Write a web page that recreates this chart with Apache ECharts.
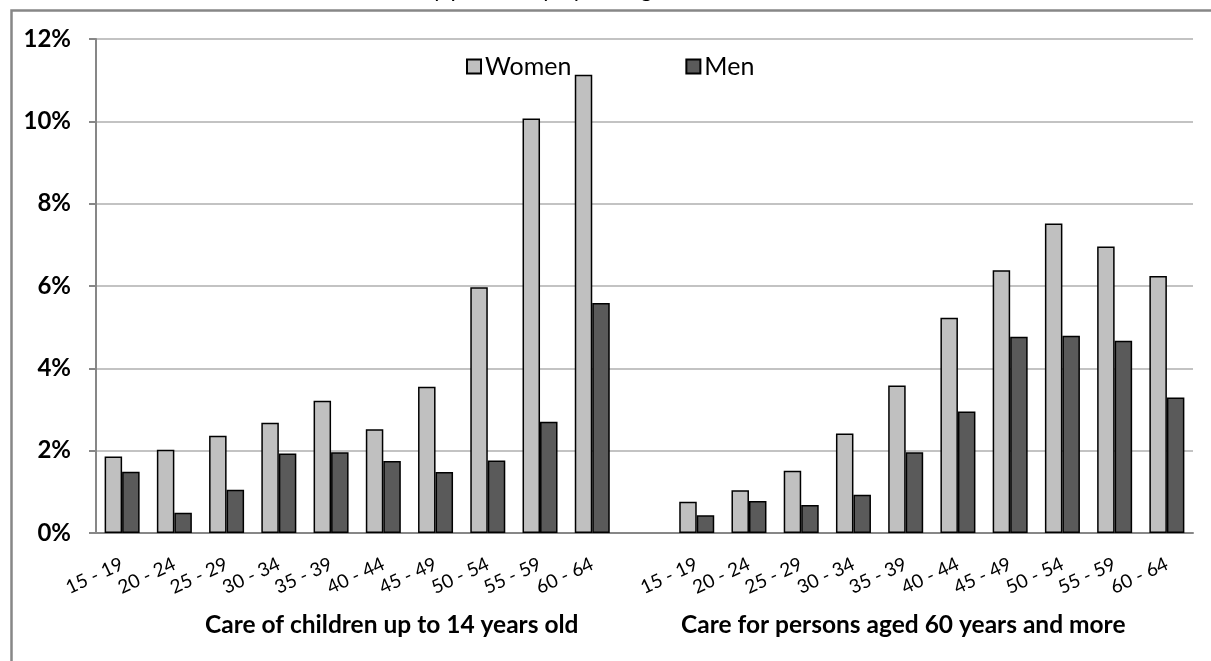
<!DOCTYPE html>
<html>
<head>
<meta charset="utf-8">
<title>Care by age of the carer</title>
<script src="https://cdn.jsdelivr.net/npm/echarts@6/dist/echarts.min.js"></script>
<style>
    html, body { margin: 0; padding: 0; background: #fff; }
    #chart { width: 1211px; height: 661px; }
</style>
</head>
<body>
<div id="chart"></div>
<script>
    // age groups, same for both blocks
    var ageGroups = ['15 - 19', '20 - 24', '25 - 29', '30 - 34', '35 - 39', '40 - 44', '45 - 49', '50 - 54', '55 - 59', '60 - 64'];

    // % of persons, care of children up to 14 years old
    var womenChildren = [1.86, 2.02, 2.36, 2.68, 3.21, 2.52, 3.55, 5.97, 10.07, 11.13];
    var menChildren = [1.49, 0.49, 1.05, 1.93, 1.96, 1.75, 1.48, 1.76, 2.70, 5.59];

    // % of persons, care for persons aged 60 years and more
    var womenElderly = [0.76, 1.04, 1.51, 2.42, 3.58, 5.23, 6.38, 7.52, 6.96, 6.24];
    var menElderly = [0.43, 0.78, 0.68, 0.93, 1.96, 2.95, 4.77, 4.79, 4.67, 3.29];

    var yTicks = [0, 2, 4, 6, 8, 10, 12];

    // one empty slot between the two blocks
    var categories = ageGroups.concat(['']).concat(ageGroups);
    var womenData = womenChildren.concat(['-']).concat(womenElderly);
    var menData = menChildren.concat(['-']).concat(menElderly);

    var fontName = 'Lato';

    var option = {
        animation: false,
        backgroundColor: '#ffffff',
        textStyle: { fontFamily: fontName },
        grid: {
            left: 96,
            right: 18,
            top: 39,
            bottom: 128
        },
        legend: {
            left: 461,
            top: 49,
            itemWidth: 14,
            itemHeight: 14,
            itemGap: 114,
            icon: 'rect',
            textStyle: {
                fontFamily: fontName,
                fontSize: 25,
                color: '#000',
                padding: [0, 0, 0, -1]
            },
            data: ['Women', 'Men']
        },
        xAxis: {
            type: 'category',
            data: categories,
            axisLine: {
                show: true,
                lineStyle: { color: '#878787', width: 2 }
            },
            axisTick: { show: false },
            axisLabel: {
                interval: 0,
                rotate: 25,
                margin: 30,
                fontSize: 19,
                fontFamily: fontName,
                color: '#000'
            }
        },
        yAxis: {
            type: 'value',
            min: yTicks[0],
            max: yTicks[yTicks.length - 1],
            interval: 2,
            axisLine: {
                show: true,
                lineStyle: { color: '#878787', width: 2 }
            },
            axisTick: {
                show: true,
                length: 7,
                lineStyle: { color: '#878787', width: 2 }
            },
            axisLabel: {
                margin: 25,
                fontSize: 24,
                fontWeight: 'bold',
                fontFamily: fontName,
                color: '#000',
                formatter: '{value}%'
            },
            splitLine: {
                lineStyle: { color: '#c3c3c3', width: 2 }
            }
        },
        series: [{
            name: 'Women',
            type: 'bar',
            data: womenData,
            barWidth: 17.5,
            barGap: '0%',
            itemStyle: {
                color: '#c0c0c0',
                borderColor: '#000',
                borderWidth: 1.5
            }
        }, {
            name: 'Men',
            type: 'bar',
            data: menData,
            barWidth: 17.5,
            barGap: '0%',
            itemStyle: {
                color: '#5a5a5a',
                borderColor: '#000',
                borderWidth: 1.5
            }
        }],
        graphic: [{
            // chart frame, right and bottom edges fall outside the picture
            type: 'rect',
            left: 9,
            top: 8,
            shape: { width: 1260, height: 700 },
            style: { fill: 'none', stroke: '#878787', lineWidth: 2.5 },
            silent: true
        }, {
            // title, mostly cut off by the top edge
            type: 'text',
            x: 120,
            y: 1,
            style: {
                text: 'Care for children and the elderly personally by the age of the carer',
                font: '23px Lato',
                fill: '#000',
                verticalAlign: 'bottom'
            }
        }, {
            type: 'text',
            left: 205,
            top: 613,
            style: {
                text: 'Care of children up to 14 years old',
                font: 'bold 24.5px Lato',
                fill: '#000'
            }
        }, {
            type: 'text',
            left: 681,
            top: 613,
            style: {
                text: 'Care for persons aged 60 years and more',
                font: 'bold 24.5px Lato',
                fill: '#000'
            }
        }]
    };

    var myChart = echarts.init(document.getElementById('chart'), null, { renderer: 'canvas' });
    myChart.setOption(option);
</script>
</body>
</html>
